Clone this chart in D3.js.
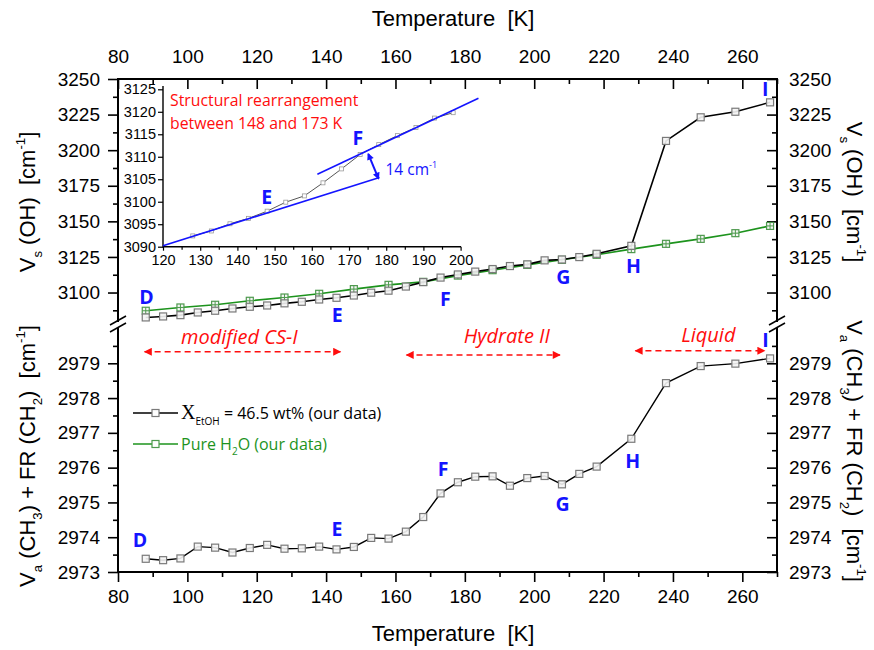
<!DOCTYPE html>
<html>
<head>
<meta charset="utf-8">
<script src="https://cdn.jsdelivr.net/npm/d3@7"></script>
<style>
  body { margin: 0; background: #fff; }
  svg { display: block; }
  text { white-space: pre; }
</style>
</head>
<body>
<svg id="chart" width="874" height="650"></svg>
<script>
//---- Data ----------------------------------------------------------------------------
var tEtOH = [88, 93, 98, 103, 108, 113, 118, 123, 128, 133, 138, 143, 148, 153, 158, 163,
  168, 173, 178, 183, 188, 193, 198, 203, 208, 213, 218, 228, 238, 248, 258, 268];
var vsOHEtOH = [3082.5, 3083.2, 3084.1, 3086.0, 3087.2, 3088.8, 3090.0, 3090.9, 3092.4, 3093.5,
  3095.1, 3096.3, 3097.9, 3099.9, 3101.3, 3104.2, 3107.3, 3110.5, 3112.7, 3114.7, 3116.5,
  3118.6, 3119.8, 3122.6, 3123.2, 3124.9, 3127.2, 3132.8, 3206.5, 3223.1, 3227.0, 3233.6];
var vaCH3EtOH = [2973.38, 2973.34, 2973.39, 2973.73, 2973.70, 2973.56, 2973.69, 2973.78, 2973.67,
  2973.68, 2973.73, 2973.65, 2973.72, 2973.98, 2973.96, 2974.16, 2974.58, 2975.26, 2975.58,
  2975.74, 2975.75, 2975.48, 2975.70, 2975.76, 2975.52, 2975.82, 2976.03, 2976.83, 2978.43,
  2978.92, 2978.99, 2979.14];
var tH2O = [88, 98, 108, 118, 128, 138, 148, 158, 168, 178, 188, 198, 208, 218, 228, 238, 248, 258, 268];
var vsOHH2O = [3087.2, 3089.5, 3091.4, 3094.2, 3096.5, 3099.1, 3102.4, 3105.4, 3107.5, 3111.9,
  3115.7, 3119.4, 3123.0, 3126.5, 3130.5, 3134.2, 3137.7, 3141.7, 3146.8];

var xTicks = [80, 100, 120, 140, 160, 180, 200, 220, 240, 260];
var xMinor = [90, 110, 130, 150, 170, 190, 210, 230, 250, 270];
var topTicks = [3100, 3125, 3150, 3175, 3200, 3225, 3250];
var topMinor = [3087.5, 3112.5, 3137.5, 3162.5, 3187.5, 3212.5, 3237.5];
var botTicks = [2973, 2974, 2975, 2976, 2977, 2978, 2979];
var botMinor = [2973.5, 2974.5, 2975.5, 2976.5, 2977.5, 2978.5, 2979.5];
var insetXTicks = [120, 130, 140, 150, 160, 170, 180, 190, 200];
var insetXMinor = [125, 135, 145, 155, 165, 175, 185, 195];
var insetYTicks = [3090, 3095, 3100, 3105, 3110, 3115, 3120, 3125];

// point labels (letter, temperature, wavenumber)
var topLetters = [["D", 88.2, 3097.2], ["E", 143.2, 3084.4], ["F", 174.4, 3095.6],
  ["G", 208.4, 3111.2], ["H", 228.6, 3118.3], ["I", 266.6, 3242.8]];
var botLetters = [["D", 86.3, 2973.93], ["E", 143.1, 2974.23], ["F", 173.7, 2975.96],
  ["G", 208.2, 2974.95], ["H", 228.4, 2976.18], ["I", 266.7, 2979.67]];
var insetLetters = [["E", 147.9, 3101.1], ["F", 172.4, 3114.2]];
// phase regions: name, from T, to T, arrow level, label level, label T
var phases = [["modified CS-I", 87.1, 144.7, 2979.33, 2979.76, 115],
  ["Hydrate II", 162.6, 208.0, 2979.24, 2979.78, 192.1],
  ["Liquid", 228.6, 267.0, 2979.36, 2979.81, 250.2]];
// inset guide lines [T1, v1, T2, v2]
var insetFits = [[120, 3090.2, 178.2, 3105.4], [161.5, 3106.1, 204.8, 3123.0]];

//---- Setup ---------------------------------------------------------------------------
var svg = d3.select("#chart");
var BLUE = "#1414ff", RED = "#ff0d0d", GREEN = "#1d931d";
var tickFont = "'Liberation Sans', Arial, sans-serif";
var noteFont = "'Open Sans', 'Noto Sans', sans-serif";
var fmt = d3.format("d");

var x = d3.scaleLinear().domain([80, 270]).range([118, 777]);
var yTop = d3.scaleLinear().domain([3080, 3250]).range([321, 79]);
var yBot = d3.scaleLinear().domain([2973, 2980]).range([572, 328.5]);
var ix = d3.scaleLinear().domain([120, 200]).range([163, 460.6]);
var iy = d3.scaleLinear().domain([3090, 3125]).range([246.7, 89.3]);

svg.append("defs").append("marker")
  .attr("id", "redHead").attr("viewBox", "0 0 10 10")
  .attr("refX", 9).attr("refY", 5)
  .attr("markerWidth", 12).attr("markerHeight", 8)
  .attr("markerUnits", "userSpaceOnUse")
  .attr("orient", "auto-start-reverse")
  .append("path").attr("d", "M0,0L10,5L0,10Z").attr("fill", RED);
svg.select("defs").append("marker")
  .attr("id", "blueHead").attr("viewBox", "0 0 10 10")
  .attr("refX", 8).attr("refY", 5)
  .attr("markerWidth", 8).attr("markerHeight", 7)
  .attr("markerUnits", "userSpaceOnUse")
  .attr("orient", "auto-start-reverse")
  .append("path").attr("d", "M0,0L10,5L0,10Z").attr("fill", BLUE);

function styleAxis(g, size) {
  g.select(".domain").remove();
  g.selectAll("line").attr("stroke", "#000").attr("stroke-width", 1.6);
  g.selectAll("text").attr("font-family", tickFont).attr("font-size", size).attr("fill", "#000");
}

function addAxis(axis, tx, ty, size) {
  svg.append("g").attr("transform", "translate(" + tx + "," + ty + ")").call(axis).call(styleAxis, size);
}

//---- Axes ----------------------------------------------------------------------------
addAxis(d3.axisTop(x).tickValues(xTicks).tickFormat(fmt).tickSizeInner(-10).tickSizeOuter(0).tickPadding(16), 0, 79, 19);
addAxis(d3.axisTop(x).tickValues(xMinor).tickSizeInner(-5).tickSizeOuter(0).tickFormat(""), 0, 79, 19);
addAxis(d3.axisBottom(x).tickValues(xTicks).tickFormat(fmt).tickSize(10).tickSizeOuter(0).tickPadding(8), 0, 572, 19);
addAxis(d3.axisBottom(x).tickValues(xMinor).tickSize(5).tickSizeOuter(0).tickFormat(""), 0, 572, 19);

addAxis(d3.axisLeft(yTop).tickValues(topTicks).tickFormat(fmt).tickSize(10).tickSizeOuter(0).tickPadding(8), 118, 0, 19);
addAxis(d3.axisLeft(yTop).tickValues(topMinor).tickSize(5).tickSizeOuter(0).tickFormat(""), 118, 0, 19);
addAxis(d3.axisLeft(yBot).tickValues(botTicks).tickFormat(fmt).tickSize(10).tickSizeOuter(0).tickPadding(8), 118, 0, 19);
addAxis(d3.axisLeft(yBot).tickValues(botMinor).tickSize(5).tickSizeOuter(0).tickFormat(""), 118, 0, 19);

addAxis(d3.axisRight(yTop).tickValues(topTicks).tickFormat(fmt).tickSizeInner(-10).tickSizeOuter(0).tickPadding(12), 777, 0, 19);
addAxis(d3.axisRight(yTop).tickValues(topMinor).tickSizeInner(-5).tickSizeOuter(0).tickFormat(""), 777, 0, 19);
addAxis(d3.axisRight(yBot).tickValues(botTicks).tickFormat(fmt).tickSizeInner(-10).tickSizeOuter(0).tickPadding(12), 777, 0, 19);
addAxis(d3.axisRight(yBot).tickValues(botMinor).tickSizeInner(-5).tickSizeOuter(0).tickFormat(""), 777, 0, 19);

// frame with break between the two panels
var frame = svg.append("g").attr("stroke", "#000").attr("stroke-width", 2).attr("fill", "none");
frame.append("line").attr("x1", 117).attr("x2", 778).attr("y1", 79).attr("y2", 79);
frame.append("line").attr("x1", 117).attr("x2", 778).attr("y1", 572).attr("y2", 572);
[118, 777].forEach(function (ax) {
  frame.append("line").attr("x1", ax).attr("x2", ax).attr("y1", 79).attr("y2", yTop(3080) + 1);
  frame.append("line").attr("x1", ax).attr("x2", ax).attr("y1", yBot(2980) - 1).attr("y2", 572);
  [0, 7].forEach(function (off) {
    frame.append("line").attr("stroke-width", 1.5)
      .attr("x1", ax - 8).attr("y1", 325 + off).attr("x2", ax + 8).attr("y2", 316 + off);
  });
});

//---- Axis titles ---------------------------------------------------------------------
function richText(g, parts, size) {
  var t = g.append("text").attr("font-family", tickFont).attr("font-size", size).attr("fill", "#000");
  var shift = 0;
  parts.forEach(function (p) {
    var target = p[1] === "sub" ? 0.3 * size : p[1] === "sup" ? -0.45 * size : 0;
    t.append("tspan").text(p[0])
      .attr("dy", target - shift)
      .attr("font-size", p[1] ? size * 0.6 : size);
    shift = target;
  });
  return t;
}

svg.append("text").attr("x", 453).attr("y", 26).attr("text-anchor", "middle")
  .attr("font-family", tickFont).attr("font-size", 22).text("Temperature  [K]");
svg.append("text").attr("x", 453).attr("y", 641).attr("text-anchor", "middle")
  .attr("font-family", tickFont).attr("font-size", 22).text("Temperature  [K]");

var vsTitle = [["V"], ["s", "sub"], [" (OH)  [cm"], ["-1", "sup"], ["]"]];
var vaTitle = [["V"], ["a", "sub"], [" (CH"], ["3", "sub"], [") + FR (CH"], ["2", "sub"], [")  [cm"], ["-1", "sup"], ["]"]];

richText(svg.append("g").attr("transform", "translate(35,202) rotate(-90)"), vsTitle, 22).attr("text-anchor", "middle");
richText(svg.append("g").attr("transform", "translate(35,456) rotate(-90)"), vaTitle, 22).attr("text-anchor", "middle");
richText(svg.append("g").attr("transform", "translate(847,192) rotate(90)"), vsTitle, 22).attr("text-anchor", "middle");
richText(svg.append("g").attr("transform", "translate(847,451) rotate(90)"), vaTitle, 22).attr("text-anchor", "middle");

//---- Series --------------------------------------------------------------------------
function drawSeries(ts, vs, ys, color, width, markStroke, plus) {
  var pts = ts.map(function (t, i) { return [t, vs[i]]; });
  svg.append("path").datum(pts)
    .attr("fill", "none").attr("stroke", color).attr("stroke-width", width)
    .attr("d", d3.line().x(function (d) { return x(d[0]); }).y(function (d) { return ys(d[1]); }));
  var g = svg.append("g");
  g.selectAll("rect").data(pts).enter().append("rect")
    .attr("x", function (d) { return x(d[0]) - 3.5; })
    .attr("y", function (d) { return ys(d[1]) - 3.5; })
    .attr("width", 7).attr("height", 7)
    .attr("fill", "#f4f4f4").attr("fill-opacity", 0.9)
    .attr("stroke", markStroke).attr("stroke-width", 1.2);
  if (plus) {
    g.selectAll("path.plus").data(pts).enter().append("path").attr("class", "plus")
      .attr("d", function (d) {
        var cx = x(d[0]), cy = ys(d[1]);
        return "M" + (cx - 3.5) + "," + cy + "H" + (cx + 3.5) + "M" + cx + "," + (cy - 3.5) + "V" + (cy + 3.5);
      })
      .attr("stroke", markStroke).attr("stroke-width", 1);
  }
}

drawSeries(tH2O, vsOHH2O, yTop, GREEN, 1.6, "#4f9a4f", true);
drawSeries(tEtOH, vsOHEtOH, yTop, "#000", 1.6, "#7a7a7a", false);
drawSeries(tEtOH, vaCH3EtOH, yBot, "#000", 1.4, "#7a7a7a", false);

//---- Letters and phase arrows --------------------------------------------------------
function letters(data, xs, ys) {
  svg.append("g").selectAll("text").data(data).enter().append("text")
    .attr("x", function (d) { return xs(d[1]); })
    .attr("y", function (d) { return ys(d[2]); })
    .attr("dy", "0.36em")
    .attr("text-anchor", "middle")
    .attr("font-family", noteFont).attr("font-weight", "bold").attr("font-size", 19.5)
    .attr("fill", BLUE).text(function (d) { return d[0]; });
}
letters(topLetters, x, yTop);
letters(botLetters, x, yBot);

phases.forEach(function (p) {
  svg.append("line")
    .attr("x1", x(p[1]) + 2).attr("x2", x(p[2]) - 2)
    .attr("y1", yBot(p[3])).attr("y2", yBot(p[3]))
    .attr("stroke", RED).attr("stroke-width", 1.6).attr("stroke-dasharray", "6,4")
    .attr("marker-start", "url(#redHead)").attr("marker-end", "url(#redHead)");
  svg.append("text").attr("x", x(p[5])).attr("y", yBot(p[4])).attr("dy", "0.35em")
    .attr("text-anchor", "middle").attr("font-family", noteFont).attr("font-style", "italic")
    .attr("font-size", 20).attr("fill", RED).text(p[0]);
});

//---- Legend --------------------------------------------------------------------------
var legend = svg.append("g");
[[413, "#000", "#7a7a7a"], [444, GREEN, "#4f9a4f"]].forEach(function (r) {
  legend.append("line").attr("x1", 133).attr("x2", 178).attr("y1", r[0]).attr("y2", r[0])
    .attr("stroke", r[1]).attr("stroke-width", 1.6);
  legend.append("rect").attr("x", 152).attr("y", r[0] - 3.5).attr("width", 7).attr("height", 7)
    .attr("fill", "#fff").attr("stroke", r[2]).attr("stroke-width", 1.2);
});
var l1 = legend.append("text").attr("x", 181).attr("y", 419).attr("font-family", noteFont)
  .attr("font-size", 16).attr("fill", "#000");
l1.append("tspan").text("X").attr("font-family", "'Liberation Serif', serif").attr("font-size", 20);
l1.append("tspan").text("EtOH").attr("font-size", 10).attr("dy", 6);
l1.append("tspan").text(" = 46.5 wt% (our data)").attr("dy", -6);
var l2 = legend.append("text").attr("x", 181).attr("y", 450).attr("font-family", noteFont)
  .attr("font-size", 16).attr("fill", GREEN);
l2.append("tspan").text("Pure H");
l2.append("tspan").text("2").attr("font-size", 10).attr("dy", 5);
l2.append("tspan").text("O (our data)").attr("dy", -5);

//---- Inset ---------------------------------------------------------------------------
var inset = svg.append("g");
function addInsetAxis(axis, tx, ty) {
  inset.append("g").attr("transform", "translate(" + tx + "," + ty + ")").call(axis).call(function (g) {
    g.select(".domain").remove();
    g.selectAll("line").attr("stroke", "#000").attr("stroke-width", 1.2);
    g.selectAll("text").attr("font-family", tickFont).attr("font-size", 14.5).attr("fill", "#000");
  });
}
addInsetAxis(d3.axisBottom(ix).tickValues(insetXTicks).tickFormat(fmt).tickSize(4).tickSizeOuter(0).tickPadding(4), 0, 246.7);
addInsetAxis(d3.axisBottom(ix).tickValues(insetXMinor).tickSize(3).tickSizeOuter(0).tickFormat(""), 0, 246.7);
addInsetAxis(d3.axisLeft(iy).tickValues(insetYTicks).tickFormat(fmt).tickSize(5).tickSizeOuter(0).tickPadding(2), 163, 0);
inset.append("path").attr("d", "M163,86V246.7H461").attr("fill", "none")
  .attr("stroke", "#000").attr("stroke-width", 1.4);

var insetPts = tEtOH.map(function (t, i) { return [t, vsOHEtOH[i]]; })
  .filter(function (d) { return d[0] > 125 && d[0] <= 200; });
inset.append("path").datum(insetPts).attr("fill", "none").attr("stroke", "#555").attr("stroke-width", 1)
  .attr("d", d3.line().x(function (d) { return ix(d[0]); }).y(function (d) { return iy(d[1]); }));
inset.selectAll("rect.ip").data(insetPts).enter().append("rect").attr("class", "ip")
  .attr("x", function (d) { return ix(d[0]) - 2; }).attr("y", function (d) { return iy(d[1]) - 2; })
  .attr("width", 4).attr("height", 4).attr("fill", "#fff").attr("stroke", "#999").attr("stroke-width", 0.8);

insetFits.forEach(function (f) {
  inset.append("line").attr("x1", ix(f[0])).attr("y1", iy(f[1])).attr("x2", ix(f[2])).attr("y2", iy(f[3]))
    .attr("stroke", BLUE).attr("stroke-width", 1.6);
});
inset.append("line").attr("x1", ix(175.2)).attr("y1", iy(3110.6)).attr("x2", ix(177.9)).attr("y2", iy(3105.2))
  .attr("stroke", BLUE).attr("stroke-width", 2)
  .attr("marker-start", "url(#blueHead)").attr("marker-end", "url(#blueHead)");
var note = inset.append("text").attr("x", ix(179.8)).attr("y", iy(3105.9))
  .attr("font-family", noteFont).attr("font-size", 15.5).attr("fill", BLUE);
note.append("tspan").text("14 cm");
note.append("tspan").text("-1").attr("font-size", 9).attr("dy", -7);

letters(insetLetters, ix, iy);

inset.append("text").attr("x", 170).attr("y", 106).attr("font-family", noteFont)
  .attr("font-size", 15.8).attr("fill", RED).text("Structural rearrangement");
inset.append("text").attr("x", 170).attr("y", 129).attr("font-family", noteFont)
  .attr("font-size", 15.8).attr("fill", RED).text("between 148 and 173 K");
</script>
</body>
</html>
